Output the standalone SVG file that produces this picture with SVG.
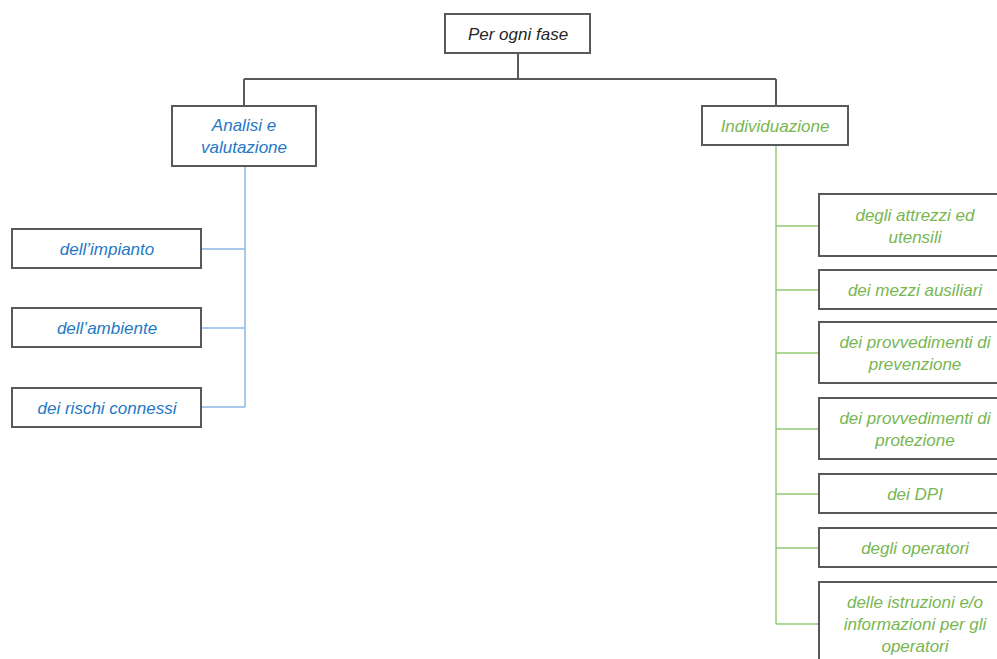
<svg xmlns="http://www.w3.org/2000/svg" width="997" height="659" viewBox="0 0 997 659">
<style>
.box{fill:#fff;stroke:#595959;stroke-width:2}
text{font-family:"Liberation Sans",Arial,sans-serif;font-size:17px;font-style:italic;text-anchor:middle}
.k{fill:#262626}
.b{fill:#2478c5}
.g{fill:#78b651}
.ck{stroke:#595959;stroke-width:2;fill:none}
.cb{stroke:#8fb8e3;stroke-width:1.5;fill:none}
.cg{stroke:#93ca74;stroke-width:1.5;fill:none}
</style>
<rect width="997" height="659" fill="#fff"/>
<g id="connectors">
<path class="ck" d="M518 53V79M244 79H776M244 79V106M776 79V106"/>
<path class="cb" d="M245 166V407M201 249H245M201 328H245M201 407H245"/>
<path class="cg" d="M776 145V624M776 226H819M776 290H819M776 353H819M776 429H819M776 494H819M776 548H819M776 624H819"/>
</g>
<g id="root"><rect class="box" x="445" y="14" width="145" height="39"/><text class="k" x="518" y="40">Per ogni fase</text></g>
<g id="analisi"><rect class="box" x="172" y="106" width="144" height="60"/><text class="b" x="244" y="131">Analisi e</text><text class="b" x="244" y="153">valutazione</text></g>
<g id="impianto"><rect class="box" x="12" y="229" width="189" height="39"/><text class="b" x="107" y="255">dell’impianto</text></g>
<g id="ambiente"><rect class="box" x="12" y="308" width="189" height="39"/><text class="b" x="107" y="334">dell’ambiente</text></g>
<g id="rischi"><rect class="box" x="12" y="388" width="189" height="39"/><text class="b" x="107" y="414">dei rischi connessi</text></g>
<g id="individuazione"><rect class="box" x="702" y="106" width="146" height="39"/><text class="g" x="775" y="132">Individuazione</text></g>
<g id="attrezzi"><rect class="box" x="819" y="194" width="192" height="62"/><text class="g" x="915" y="221">degli attrezzi ed</text><text class="g" x="915" y="243">utensili</text></g>
<g id="mezzi"><rect class="box" x="819" y="270" width="192" height="39"/><text class="g" x="915" y="296">dei mezzi ausiliari</text></g>
<g id="prevenzione"><rect class="box" x="819" y="322" width="192" height="61"/><text class="g" x="915" y="348">dei provvedimenti di</text><text class="g" x="915" y="370">prevenzione</text></g>
<g id="protezione"><rect class="box" x="819" y="398" width="192" height="61"/><text class="g" x="915" y="424">dei provvedimenti di</text><text class="g" x="915" y="446">protezione</text></g>
<g id="dpi"><rect class="box" x="819" y="474" width="192" height="39"/><text class="g" x="915" y="500">dei DPI</text></g>
<g id="operatori"><rect class="box" x="819" y="528" width="192" height="39"/><text class="g" x="915" y="554">degli operatori</text></g>
<g id="istruzioni"><rect class="box" x="819" y="582" width="192" height="90"/><text class="g" x="915" y="608">delle istruzioni e/o</text><text class="g" x="915" y="630">informazioni per gli</text><text class="g" x="915" y="652">operatori</text></g>
</svg>
